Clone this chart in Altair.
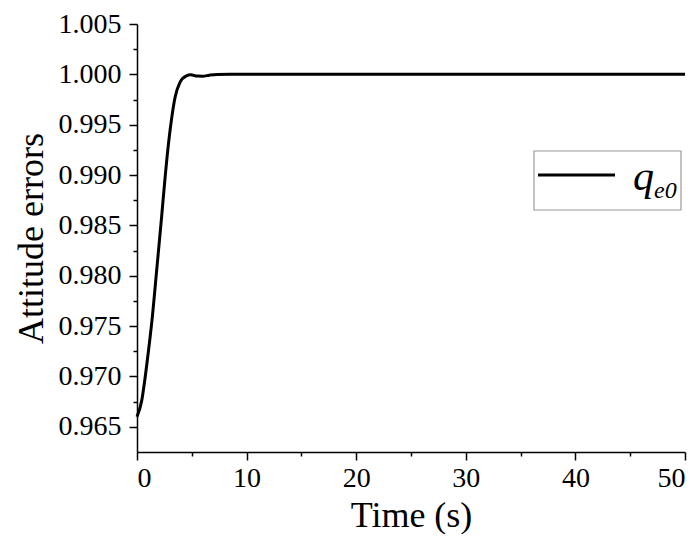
import altair as alt
import pandas as pd

# ---- data ----
time_s = [0, 0.43, 0.73, 1.03, 1.34, 1.8, 2.25, 2.55, 2.86, 3.17, 3.47, 3.92,
          4.5, 4.9, 5.5, 6.0, 6.6, 7.3, 8.5, 10, 20, 30, 40, 50]
q_e0 = [0.9660, 0.9676, 0.9698, 0.9724, 0.9753, 0.9806, 0.9859, 0.9896,
        0.9930, 0.9957, 0.9977, 0.9992, 0.99985, 0.99995, 0.99983, 0.99982,
        0.99992, 0.99999, 1.0, 1.0, 1.0, 1.0, 1.0, 1.0]

x_ticks = [0, 5, 10, 15, 20, 25, 30, 35, 40, 45, 50]
y_ticks = [0.965, 0.9675, 0.97, 0.9725, 0.975, 0.9775, 0.98, 0.9825, 0.985,
           0.9875, 0.99, 0.9925, 0.995, 0.9975, 1.0, 1.0025, 1.005]
x_domain = [0, 50]
y_domain = [0.9625, 1.005]

legend_main = ["q"]
legend_sub = ["e0"]
x_title = "Time (s)"
y_title = "Attitude errors"

FONT = "Liberation Serif"

df = pd.DataFrame({"t": time_s, "q": q_e0})
leg = pd.DataFrame({"main": legend_main, "sub": legend_sub})

y_major = "abs(datum.value*200 - round(datum.value*200)) < 0.01"
x_major = "datum.value % 10 == 0"

line = alt.Chart(df).mark_line(color="black", strokeWidth=3, interpolate="monotone").encode(
    x=alt.X("t:Q", scale=alt.Scale(domain=x_domain, nice=False, zero=False),
            axis=alt.Axis(values=x_ticks, title=x_title,
                          labelExpr=f"{x_major} ? datum.label : ''",
                          tickSize={"condition": {"test": x_major, "value": 8}, "value": 4},
                          labelPadding=4, titlePadding=6, labelOverlap=False)),
    y=alt.Y("q:Q", scale=alt.Scale(domain=y_domain, nice=False, zero=False),
            axis=alt.Axis(values=y_ticks, title=y_title,
                          labelExpr=f"{y_major} ? format(datum.value, '.3f') : ''",
                          tickSize={"condition": {"test": y_major, "value": 8}, "value": 4},
                          labelPadding=8, titlePadding=8, labelOverlap=False)),
)

box = alt.Chart(leg).mark_rect(fill="white", stroke="#999999", strokeWidth=1.2).encode(
    x=alt.value(397), x2=alt.value(544), y=alt.value(127), y2=alt.value(186))
sym = alt.Chart(leg).mark_rule(color="black", strokeWidth=3).encode(
    x=alt.value(401), x2=alt.value(478), y=alt.value(151))
t_main = alt.Chart(leg).mark_text(font=FONT, fontStyle="italic", fontSize=42, align="left",
                                  baseline="alphabetic", color="black").encode(
    x=alt.value(496), y=alt.value(166), text="main:N")
t_sub = alt.Chart(leg).mark_text(font=FONT, fontStyle="italic", fontSize=24, align="left",
                                 baseline="alphabetic", color="black").encode(
    x=alt.value(517), y=alt.value(174), text="sub:N")

chart = alt.layer(line, box, sym, t_main, t_sub).properties(
    width=548, height=428,
    autosize=alt.AutoSizeParams(type="none"),
    padding={"left": 129, "top": 16, "right": 7, "bottom": 82},
    background="white",
).configure_view(stroke=None).configure_axis(
    grid=False, domainColor="black", domainWidth=1.5, tickColor="black", tickWidth=1.5,
    labelFont=FONT, labelFontSize=28, labelColor="black",
    titleFont=FONT, titleFontSize=36, titleFontWeight="normal", titleColor="black",
)

chart.save("out.html", embed_options={"renderer": "svg", "actions": False})
